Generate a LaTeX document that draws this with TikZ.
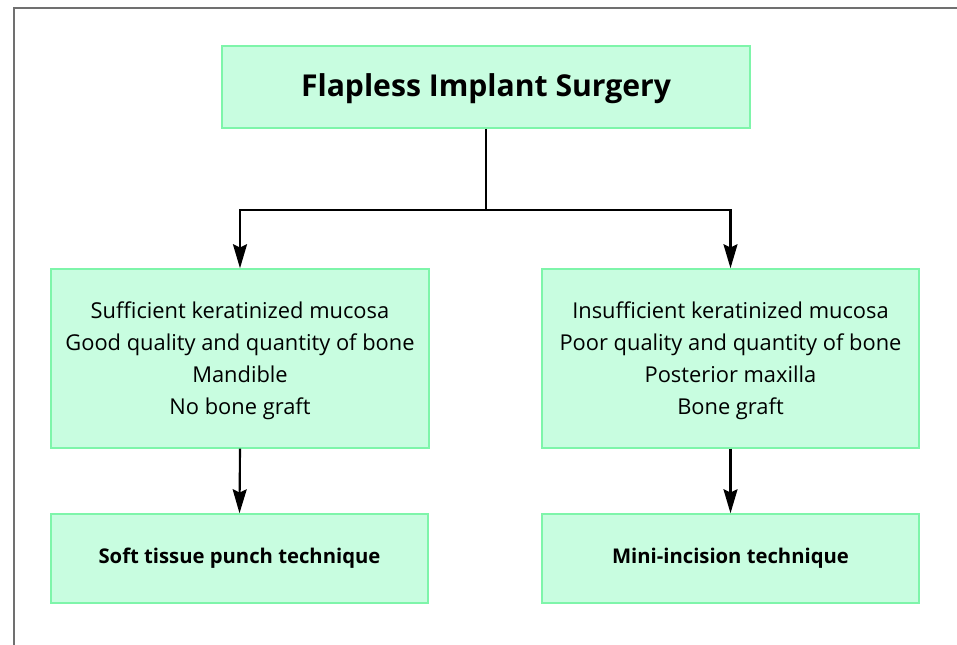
\documentclass[tikz,border=0pt]{standalone}
\usepackage{fontspec}
\setmainfont{Open Sans}
\usetikzlibrary{arrows.meta}
\definecolor{boxfill}{HTML}{C8FDE0}
\definecolor{boxline}{HTML}{7EF5AA}
\definecolor{framecol}{HTML}{707070}
\tikzset{
  box/.style={draw=boxline, fill=boxfill, line width=1.1pt, inner sep=0pt, align=center},
  conn/.style={line width=1.6pt, draw=black},
  arr/.style={conn, -{Stealth[length=18pt, width=10.5pt, inset=2.5pt]}},
  midtext/.style={font=\fontsize{16.4}{24}\selectfont},
  bottext/.style={font=\fontsize{15.2}{18}\selectfont\bfseries},
}
\begin{document}
\begin{tikzpicture}[x=0.75pt, y=-0.75pt]
\useasboundingbox (0,0) rectangle (957,645);
\draw[framecol, line width=1.1pt] (14,645) -- (14,8) -- (957,8);
\node[box, minimum width=528*0.75pt, minimum height=82*0.75pt] (top) at (486,87) {};
\node[font=\fontsize{22.6}{26}\selectfont\bfseries, inner sep=0pt] (toptext) at ([yshift=-1.5pt]top.center) {Flapless Implant Surgery};
\node[box, midtext, minimum width=378*0.75pt, minimum height=179*0.75pt] (lm) at (240,358.5) {};
\node[midtext, align=center, inner sep=0pt] (lmtext) at ([yshift=-1.5pt]lm.center) {Sufficient keratinized mucosa\\Good quality and quantity of bone\\Mandible\\No bone graft};
\node[box, midtext, minimum width=377*0.75pt, minimum height=179*0.75pt] (rm) at (730.5,358.5) {};
\node[midtext, align=center, inner sep=0pt] (rmtext) at ([yshift=-1.5pt]rm.center) {Insufficient keratinized mucosa\\Poor quality and quantity of bone\\Posterior maxilla\\Bone graft};
\node[box, bottext, minimum width=377*0.75pt, minimum height=89*0.75pt] (lb) at (239.5,558.5) {Soft tissue punch technique};
\node[box, bottext, minimum width=377*0.75pt, minimum height=89*0.75pt] (rb) at (730.5,558.5) {Mini-incision technique};
\coordinate (split) at (486,210);
\draw[conn] (top.south) -- (split);
\draw[arr] (split) -| (lm.north);
\draw[arr] (split) -| (rm.north);
\draw[arr] (lm.south) -- (lb.north);
\draw[arr] (rm.south) -- (rb.north);
\end{tikzpicture}
\end{document}
